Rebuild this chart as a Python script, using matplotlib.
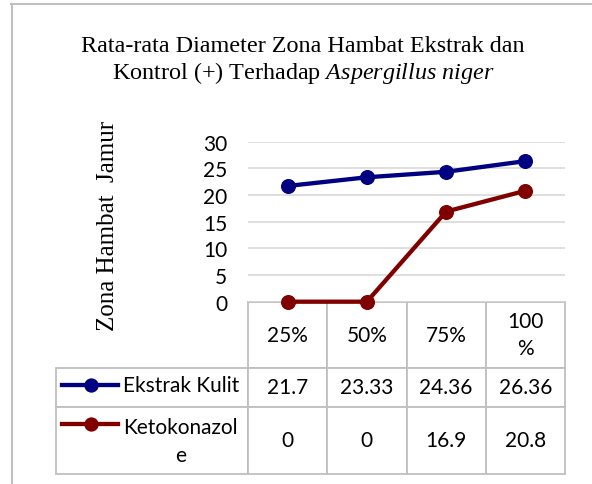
import numpy as np
import matplotlib.pyplot as plt
from matplotlib.lines import Line2D

plt.rcParams['mathtext.fontset'] = 'custom'
plt.rcParams['mathtext.rm'] = 'Liberation Serif'
plt.rcParams['mathtext.it'] = 'Liberation Serif:italic'

# data
konsentrasi = ['25%', '50%', '75%', '100\n%']
ekstrak_kulit = [21.7, 23.33, 24.36, 26.36]
ketokonazole = [0, 0, 16.9, 20.8]
seri = ['Ekstrak Kulit', 'Ketokonazol\ne']
warna = ['#000080', '#800000']

W, H = 592, 485
fig = plt.figure(figsize=(W / 100, H / 100), dpi=100)


def fx(x):
    return x / W


def fy(y):
    return 1 - y / H


# plot area in pixels
left, right, top, bottom = 248, 565, 142.7, 302.7
ax = fig.add_axes([fx(left), fy(bottom), fx(right - left), (bottom - top) / H])

x = np.arange(len(konsentrasi))
for vals, c in zip([ekstrak_kulit, ketokonazole], warna):
    ax.plot(x, vals, color=c, lw=3.1, marker='o', ms=9.8, clip_on=False, zorder=5)

ax.set_xlim(-0.5, len(konsentrasi) - 0.5)
ax.set_ylim(0, 30)
ax.set_yticks(range(0, 31, 5))
ax.set_xticks([])
ax.grid(axis='y', color='#D9D9D9', lw=1.2)
ax.set_axisbelow(True)
for s in ax.spines.values():
    s.set_visible(False)
ax.tick_params(axis='y', length=0, pad=15, labelsize=15)
for t in ax.get_yticklabels():
    t.set_fontfamily('Lato')

# data table: first column holds the legend, its header cell stays empty
pw = right - left
ph = bottom - top
tleft, tbottom = 56, 475
isi = [[''] + [f'{v:g}' for v in ekstrak_kulit], [''] + [f'{v:g}' for v in ketokonazole]]
tbl = ax.table(cellText=isi, colLabels=[''] + konsentrasi, cellLoc='center', colLoc='center',
               bbox=[(tleft - left) / pw, -(tbottom - bottom) / ph,
                     (right - tleft) / pw, (tbottom - bottom) / ph])
tbl.auto_set_font_size(False)
tbl.set_fontsize(15)
row_h = {0: 66, 1: 39, 2: 67}
for (r, c), cell in tbl.get_celld().items():
    cell.set_height(row_h[r])
    cell.set_width(192 if c == 0 else 79.25)
    cell.set_edgecolor('#BFBFBF')
    cell.set_linewidth(1.3)
    cell.get_text().set_fontfamily('Lato')
    cell.get_text().set_linespacing(1.45)
    if r == 0 and c == 0:
        cell.visible_edges = ''
        cell.set_facecolor('none')

# legend glyphs in the first column
for (nama, c, yc, yt) in zip(seri, warna, [386, 425], [386, 442]):
    fig.add_artist(Line2D([fx(62), fx(118)], [fy(yc), fy(yc)], color=c, lw=3.1))
    fig.add_artist(Line2D([fx(91)], [fy(yc)], color=c, marker='o', ms=9.3))
    fig.text(fx(123), fy(yt), nama, ha='left', va='center', family='Lato', size=15,
             multialignment='center', linespacing=1.45)

# judul
fig.text(fx(303), fy(47), 'Rata-rata Diameter Zona Hambat Ekstrak dan', ha='center', va='center',
         family='Liberation Serif', size=17.4)
fig.text(fx(303), fy(73), r'Kontrol (+) Terhadap $Aspergillus\ niger$', ha='center', va='center',
         family='Liberation Serif', size=17.4)
fig.text(fx(108), fy(226), 'Zona Hambat  Jamur', rotation=90, ha='center', va='center',
         family='Liberation Serif', size=18)

# chart border
fig.add_artist(Line2D([fx(11), 1], [fy(5), fy(5)], color='#BFBFBF', lw=1.5))
fig.add_artist(Line2D([fx(12), fx(12)], [fy(5), 0], color='#BFBFBF', lw=1.5))

fig.savefig('out.png', dpi=100)
